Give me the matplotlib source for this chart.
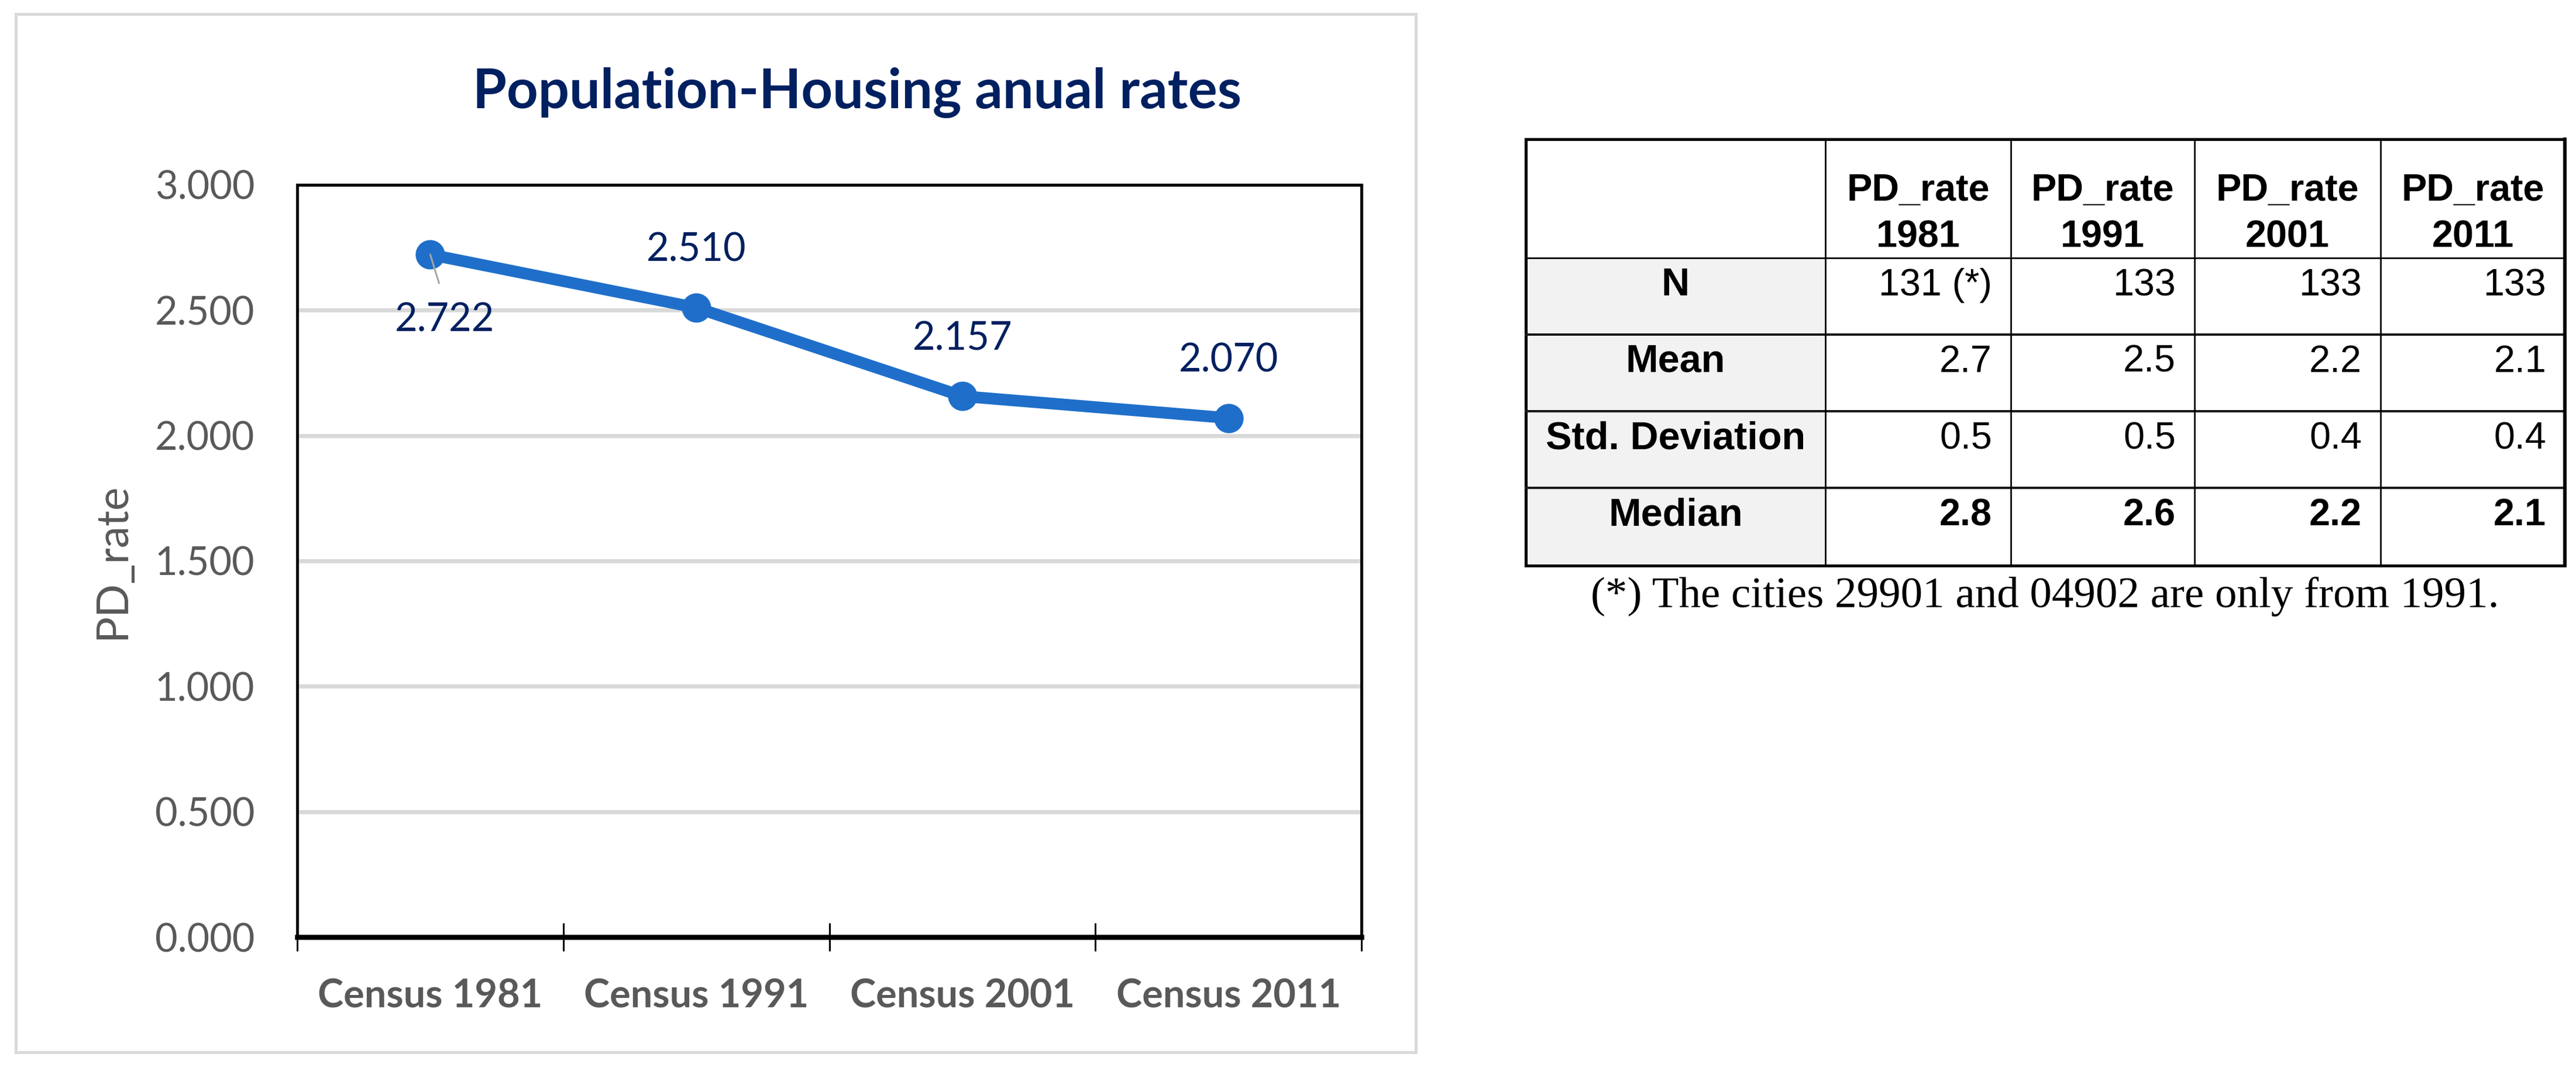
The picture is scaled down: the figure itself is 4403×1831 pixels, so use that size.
import matplotlib.pyplot as plt
import matplotlib.patches as patches
import numpy as np

plt.rcParams['font.family'] = ['Lato', 'DejaVu Sans']

# data of the chart
categories = ['Census 1981', 'Census 1991', 'Census 2001', 'Census 2011']
pd_rate = [2.722, 2.510, 2.157, 2.070]
y_ticks = [0.0, 0.5, 1.0, 1.5, 2.0, 2.5, 3.0]

# data of the table
table_cols = ['PD_rate\n1981', 'PD_rate\n1991', 'PD_rate\n2001', 'PD_rate\n2011']
row_names = ['N', 'Mean', 'Std. Deviation', 'Median']
n_values = ['131 (*)', '133', '133', '133']
mean_values = [2.7, 2.5, 2.2, 2.1]
std_values = [0.5, 0.5, 0.4, 0.4]
median_values = [2.8, 2.6, 2.2, 2.1]
footnote = '(*) The cities 29901 and 04902 are only from 1991.'

W, H, DPI = 4403, 1831, 300
blue = '#1F6FCA'
navy = '#002060'
grey_txt = '#595959'


def px(v):
    # pixels -> points
    return v * 72.0 / DPI


fig = plt.figure(figsize=(W / DPI, H / DPI), dpi=DPI)
fig.patch.set_facecolor('white')

# background axes in pixel coordinates (chart frame, table, footnote)
bg = fig.add_axes([0, 0, 1, 1])
bg.set_xlim(0, W)
bg.set_ylim(H, 0)
bg.axis('off')

bg.add_patch(patches.Rectangle((27, 24), 2393, 1775, fill=False,
                               edgecolor='#D9D9D9', lw=px(5)))

# ---- line chart ----
ax_l, ax_r, ax_t, ax_b = 508, 2327, 316, 1602
ax = fig.add_axes([ax_l / W, 1 - ax_b / H, (ax_r - ax_l) / W, (ax_b - ax_t) / H])
ax.set_facecolor('white')

x = np.arange(len(categories))
ax.plot(x, pd_rate, color=blue, lw=px(20), marker='o', ms=px(46),
        solid_capstyle='round', zorder=3)

ax.set_xlim(-0.5, len(categories) - 0.5)
ax.set_ylim(0, 3)
ax.set_yticks(y_ticks)
ax.set_yticklabels([f'{v:.3f}' for v in y_ticks])
ax.set_xticks(np.arange(len(categories) + 1) - 0.5)
ax.set_xticklabels([])
ax.set_xticks(x, minor=True)
ax.set_xticklabels(categories, minor=True, fontweight='bold')

ax.tick_params(axis='x', which='major', direction='inout', length=px(48),
               width=px(3), color='black')
ax.tick_params(axis='x', which='minor', length=0, pad=17,
               labelsize=16, labelcolor=grey_txt)
ax.tick_params(axis='y', length=0, pad=17.5, labelsize=16, labelcolor=grey_txt)

ax.grid(axis='y', color='#D9D9D9', lw=px(7))
ax.set_axisbelow(True)
for s in ['left', 'top', 'right']:
    ax.spines[s].set_linewidth(px(5))
    ax.spines[s].set_color('black')
ax.spines['bottom'].set_linewidth(px(8.5))
ax.spines['bottom'].set_color('black')

ax.set_ylabel('PD_rate', fontsize=18, color=grey_txt, va='center')
ax.yaxis.set_label_coords(-0.174, 0.5)

# data labels
label_offsets = [(6, -31.5), (0, 19), (0, 19), (0, 19)]
for xi, v, off in zip(x, pd_rate, label_offsets):
    kw = {}
    if off[1] < 0:
        kw['arrowprops'] = dict(arrowstyle='-', color='#A6A6A6', lw=px(3),
                                shrinkA=6, shrinkB=0, relpos=(0.5, 1.0))
    ax.annotate(f'{v:.3f}', (xi, v), xytext=off, textcoords='offset points',
                ha='center', va='baseline', fontsize=16, color=navy,
                zorder=5, **kw)

fig.text(1465 / W, 1 - 185 / H, 'Population-Housing anual rates',
         ha='center', va='baseline', fontsize=22.5, fontweight='bold', color=navy)

# ---- table ----
col_edges = [2608, 3120, 3437, 3751, 4069, 4384]
row_edges = [238, 441, 572, 703, 834, 967]
tfont = ['Liberation Sans', 'DejaVu Sans']

for r in range(1, len(row_edges) - 1):
    bg.add_patch(patches.Rectangle((col_edges[0], row_edges[r]),
                                   col_edges[1] - col_edges[0],
                                   row_edges[r + 1] - row_edges[r],
                                   facecolor='#F2F2F2', edgecolor='none'))

# inner lines
bg.plot([col_edges[0], col_edges[-1]], [row_edges[1]] * 2, color='black', lw=px(2.7))
for yy in row_edges[2:-1]:
    bg.plot([col_edges[0], col_edges[-1]], [yy] * 2, color='#1A1A1A', lw=px(4))
for xx in col_edges[1:-1]:
    bg.plot([xx, xx], [row_edges[0], row_edges[-1]], color='black', lw=px(2.7))
# outer border
bg.add_patch(patches.Rectangle((col_edges[0], row_edges[0]),
                               col_edges[-1] - col_edges[0],
                               row_edges[-1] - row_edges[0],
                               fill=False, edgecolor='black', lw=px(5)))
bg.plot([col_edges[-1]] * 2, [row_edges[0], row_edges[-1]], color='black', lw=px(6))

# header
for j, lab in enumerate(table_cols):
    cx = (col_edges[j + 1] + col_edges[j + 2]) / 2
    for line, base in zip(lab.split('\n'), [343, 422]):
        bg.text(cx, base, line, ha='center', va='baseline', fontsize=15.5,
                fontweight='bold', family=tfont)

rows = [n_values,
        [f'{v:.1f}' for v in mean_values],
        [f'{v:.1f}' for v in std_values],
        [f'{v:.1f}' for v in median_values]]
for i, (name, vals) in enumerate(zip(row_names, rows)):
    base = row_edges[i + 1] + 64
    bg.text((col_edges[0] + col_edges[1]) / 2, base, name, ha='center',
            va='baseline', fontsize=16, fontweight='bold', family=tfont)
    weight = 'bold' if name == 'Median' else 'normal'
    for j, val in enumerate(vals):
        bg.text(col_edges[j + 2] - 32, base, val, ha='right', va='baseline',
                fontsize=15.5, fontweight=weight, family=tfont)

bg.text(3495, 1038, footnote, ha='center', va='baseline', fontsize=18,
        family=['Liberation Serif', 'DejaVu Serif'])

fig.savefig('out.png', dpi=DPI)
